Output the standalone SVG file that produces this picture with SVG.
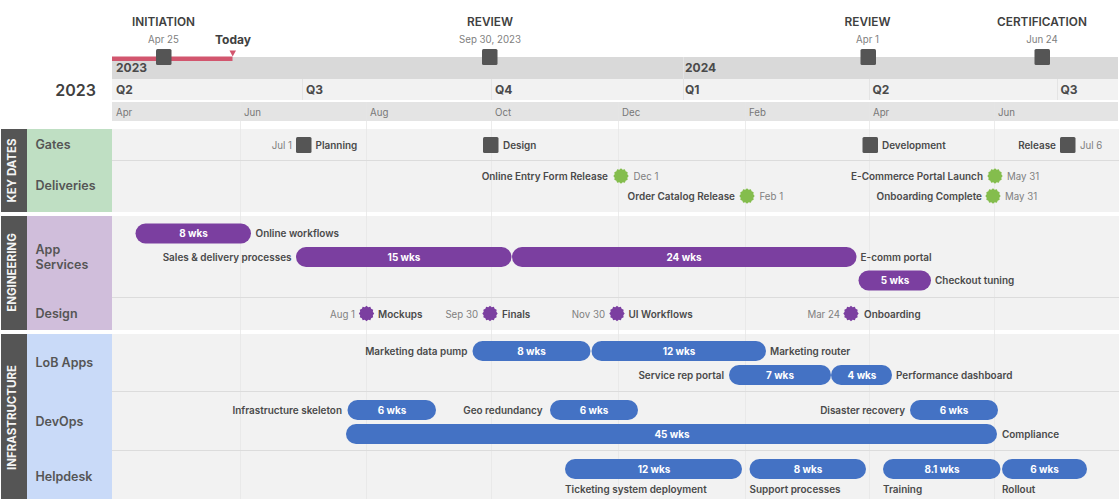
<svg xmlns="http://www.w3.org/2000/svg" width="1119" height="499" viewBox="0 0 1119 499">
<style>
text{font-family:Inter,"Noto Sans","Liberation Sans",sans-serif;fill:#4a4a4a;font-size:9.95px;font-weight:600}
.m{text-anchor:middle}.e{text-anchor:end}
.gate{font-size:11.8px;font-weight:600;fill:#404040}
.d{font-weight:400;fill:#808080;font-size:9.7px}
.yr{font-size:12px;font-weight:700;fill:#4a4a4a}
.mo{font-size:9.7px;font-weight:400;fill:#777}
.sec{font-size:11.5px;font-weight:700;fill:#f4f4f4;text-anchor:middle}
.lane{font-size:12.5px;fill:#555}
.bt{fill:#fff;font-weight:700;text-anchor:middle}
.sq{fill:#555}
.pb{fill:#7b3fa0}.bb{fill:#4472c4}
.grid{stroke:#e6e6e6;stroke-width:1}
.div{stroke:#dcdcdc;stroke-width:1}
</style>
<defs>
<path id="star" d="M7.7 0L6.33 1.7L6.67 3.85L4.63 4.63L3.85 6.67L1.7 6.33L0 7.7L-1.7 6.33L-3.85 6.67L-4.63 4.63L-6.67 3.85L-6.33 1.7L-7.7 0L-6.33 -1.7L-6.67 -3.85L-4.63 -4.63L-3.85 -6.67L-1.7 -6.33L0 -7.7L1.7 -6.33L3.85 -6.67L4.63 -4.63L6.67 -3.85L6.33 -1.7Z"/>
<rect id="sqr" class="sq" width="15.5" height="16" rx="1.5"/>
</defs>
<rect width="1119" height="499" fill="#fff"/>
<g id="timescale">
<rect x="112" y="57" width="1006" height="22" fill="#d9d9d9"/>
<rect x="112" y="79" width="1006" height="21" fill="#f2f2f2"/>
<rect x="112" y="102" width="1006" height="19" fill="#e4e4e4"/>
<path d="M302.500 79V100M491.500 79V100M683.500 79V100M869.500 79V100M1057.500 79V100" stroke="#e4e4e4"/>
<path d="M683.500 57V79" stroke="#e4e4e4"/>
<text x="116" y="72" class="yr">2023</text><text x="685" y="72" class="yr">2024</text>
<text x="116" y="94" class="yr">Q2</text><text x="306" y="94" class="yr">Q3</text><text x="495" y="94" class="yr">Q4</text><text x="685" y="94" class="yr">Q1</text><text x="872.500" y="94" class="yr">Q2</text><text x="1060.500" y="94" class="yr">Q3</text>
<text x="116" y="116" class="mo">Apr</text><text x="244" y="116" class="mo">Jun</text><text x="370" y="116" class="mo">Aug</text><text x="495" y="116" class="mo">Oct</text><text x="622" y="116" class="mo">Dec</text><text x="749" y="116" class="mo">Feb</text><text x="873" y="116" class="mo">Apr</text><text x="998" y="116" class="mo">Jun</text>
<text x="96" y="96" class="e" style="font-size:16px;font-weight:600;fill:#404040">2023</text>
</g>
<g id="rows">
<rect x="112" y="129" width="1007" height="83" fill="#f2f2f2"/>
<rect x="112" y="216" width="1007" height="114" fill="#f2f2f2"/>
<rect x="112" y="334" width="1007" height="165" fill="#f2f2f2"/>
<path class="grid" d="M240.500 102V499M366.500 102V499M491.500 102V499M618.500 102V499M745.500 102V499M869.500 102V499M994.500 102V499" opacity=".75"/>
<path class="div" d="M26 160.500H1119M26 297.500H1119M26 391.500H1119M26 450.500H1119"/>
</g>
<g id="section-key-dates">
<rect x="1" y="129" width="26" height="83" fill="#555"/>
<rect x="27" y="129" width="85" height="83" fill="#bfdfc3"/>
<text class="sec" transform="translate(16 170.500) rotate(-90)">KEY DATES</text>
<text x="35.500" y="149" class="lane">Gates</text><text x="35.500" y="190" class="lane">Deliveries</text>
</g>
<g id="section-engineering">
<rect x="1" y="216" width="26" height="114" fill="#555"/>
<rect x="27" y="216" width="85" height="114" fill="#d0bedb"/>
<text class="sec" transform="translate(16 272.500) rotate(-90)">ENGINEERING</text>
<text x="35.500" y="254" class="lane">App</text><text x="35.500" y="269" class="lane">Services</text><text x="35.500" y="318" class="lane">Design</text>
</g>
<g id="section-infrastructure">
<rect x="1" y="334" width="26" height="165" fill="#555"/>
<rect x="27" y="334" width="85" height="165" fill="#c9daf8"/>
<text class="sec" transform="translate(16 417.500) rotate(-90)">INFRASTRUCTURE</text>
<text x="35.500" y="367" class="lane">LoB Apps</text><text x="35.500" y="426" class="lane">DevOps</text><text x="35.500" y="481" class="lane">Helpdesk</text>
</g>
<g id="today"><rect x="112" y="56.500" width="120.500" height="4.500" fill="#d2566e"/><path d="M229.500 50.500H236L232.700 56.500Z" fill="#d2566e"/><text x="233" y="44" class="m" style="font-size:12px;font-weight:700;fill:#404040">Today</text></g>
<g id="gate-initiation"><text x="163.500" y="26" class="gate m">INITIATION</text><text x="163.500" y="43" class="d m">Apr 25</text><use href="#sqr" x="156" y="49"/></g>
<g id="gate-review-1"><text x="490" y="26" class="gate m">REVIEW</text><text x="490" y="43" class="d m">Sep 30, 2023</text><use href="#sqr" x="482" y="49"/></g>
<g id="gate-review-2"><text x="867.500" y="26" class="gate m">REVIEW</text><text x="867.500" y="43" class="d m">Apr 1</text><use href="#sqr" x="860.500" y="49"/></g>
<g id="gate-certification"><text x="1042" y="26" class="gate m">CERTIFICATION</text><text x="1042" y="43" class="d m">Jun 24</text><use href="#sqr" x="1034.500" y="49"/></g>
<g id="gates">
<g id="g-planning"><text x="292" y="149" class="d e">Jul 1</text><use href="#sqr" x="296" y="137"/><text x="315.500" y="148.500">Planning</text></g>
<g id="g-design"><use href="#sqr" x="483" y="137"/><text x="503" y="148.500">Design</text></g>
<g id="g-development"><use href="#sqr" x="862.500" y="137"/><text x="882" y="148.500">Development</text></g>
<g id="g-release"><text x="1056" y="148.500" class="e">Release</text><use href="#sqr" x="1060" y="137"/><text x="1080" y="149" class="d">Jul 6</text></g>
</g>
<g id="deliveries" fill="#84bd4d">
<g id="d-entry"><text x="608" y="180" class="e">Online Entry Form Release</text><use href="#star" x="621" y="176"/><text x="633.500" y="180" class="d">Dec 1</text></g>
<g id="d-catalog"><text x="735" y="200" class="e">Order Catalog Release</text><use href="#star" x="747" y="196"/><text x="759.500" y="200" class="d">Feb 1</text></g>
<g id="d-ecommerce"><text x="983" y="180" class="e">E-Commerce Portal Launch</text><use href="#star" x="995" y="176"/><text x="1007" y="180" class="d">May 31</text></g>
<g id="d-onboarding"><text x="982" y="200" class="e">Onboarding Complete</text><use href="#star" x="993" y="196"/><text x="1005" y="200" class="d">May 31</text></g>
</g>
<g id="design-milestones" fill="#7b3fa0">
<g id="m-mockups"><text x="355" y="317.500" class="d e">Aug 1</text><use href="#star" x="366.500" y="313.500"/><text x="378" y="317.500">Mockups</text></g>
<g id="m-finals"><text x="478" y="317.500" class="d e">Sep 30</text><use href="#star" x="490" y="313.500"/><text x="502" y="317.500">Finals</text></g>
<g id="m-ui"><text x="605" y="317.500" class="d e">Nov 30</text><use href="#star" x="617" y="313.500"/><text x="628.500" y="317.500">UI Workflows</text></g>
<g id="m-onboarding"><text x="840" y="317.500" class="d e">Mar 24</text><use href="#star" x="851" y="313.500"/><text x="864" y="317.500">Onboarding</text></g>
</g>
<g id="engineering-bars">
<g id="b-online"><rect class="pb" x="135.500" y="223.500" width="115.500" height="20" rx="10"/><text class="bt" x="193.500" y="237">8 wks</text><text x="255.500" y="237">Online workflows</text></g>
<g id="b-sales"><text x="291.500" y="260.500" class="e">Sales &amp; delivery processes</text><rect class="pb" x="296" y="247" width="215.500" height="20" rx="10"/><text class="bt" x="404" y="260.500">15 wks</text></g>
<g id="b-ecomm"><rect class="pb" x="512" y="247" width="344.500" height="20" rx="10"/><text class="bt" x="684" y="260.500">24 wks</text><text x="860.500" y="260.500">E-comm portal</text></g>
<g id="b-checkout"><rect class="pb" x="858.500" y="270.500" width="72.500" height="20" rx="10"/><text class="bt" x="895" y="284">5 wks</text><text x="935" y="284">Checkout tuning</text></g>
</g>
<g id="infrastructure-bars">
<g id="b-pump"><text x="467.500" y="355" class="e">Marketing data pump</text><rect class="bb" x="472.500" y="341" width="118" height="20" rx="10"/><text class="bt" x="531.500" y="355">8 wks</text></g>
<g id="b-router"><rect class="bb" x="591.500" y="341" width="174.500" height="20" rx="10"/><text class="bt" x="679" y="355">12 wks</text><text x="770" y="355">Marketing router</text></g>
<g id="b-rep"><text x="724" y="378.500" class="e">Service rep portal</text><rect class="bb" x="729" y="365" width="102" height="20" rx="10"/><text class="bt" x="780" y="378.500">7 wks</text></g>
<g id="b-perf"><rect class="bb" x="831" y="365" width="61" height="20" rx="10"/><text class="bt" x="862" y="378.500">4 wks</text><text x="896" y="378.500">Performance dashboard</text></g>
<g id="b-skeleton"><text x="342" y="414" class="e">Infrastructure skeleton</text><rect class="bb" x="347.500" y="400" width="88.500" height="20" rx="10"/><text class="bt" x="392" y="414">6 wks</text></g>
<g id="b-geo"><text x="542.500" y="414" class="e">Geo redundancy</text><rect class="bb" x="550" y="400" width="88" height="20" rx="10"/><text class="bt" x="594" y="414">6 wks</text></g>
<g id="b-disaster"><text x="905" y="414" class="e">Disaster recovery</text><rect class="bb" x="910" y="400" width="88" height="20" rx="10"/><text class="bt" x="954" y="414">6 wks</text></g>
<g id="b-compliance"><rect class="bb" x="346" y="424" width="651" height="20" rx="10"/><text class="bt" x="672" y="437.500">45 wks</text><text x="1002" y="437.500">Compliance</text></g>
<g id="b-ticket"><rect class="bb" x="565" y="459" width="177" height="20" rx="10"/><text class="bt" x="654" y="472.500">12 wks</text><text x="565" y="492.500">Ticketing system deployment</text></g>
<g id="b-support"><rect class="bb" x="749.500" y="459" width="116.500" height="20" rx="10"/><text class="bt" x="808" y="472.500">8 wks</text><text x="749.500" y="492.500">Support processes</text></g>
<g id="b-training"><rect class="bb" x="883" y="459" width="117.500" height="20" rx="10"/><text class="bt" x="942" y="472.500">8.1 wks</text><text x="883" y="492.500">Training</text></g>
<g id="b-rollout"><rect class="bb" x="1002" y="459" width="85" height="20" rx="10"/><text class="bt" x="1044.500" y="472.500">6 wks</text><text x="1002" y="492.500">Rollout</text></g>
</g>
</svg>
